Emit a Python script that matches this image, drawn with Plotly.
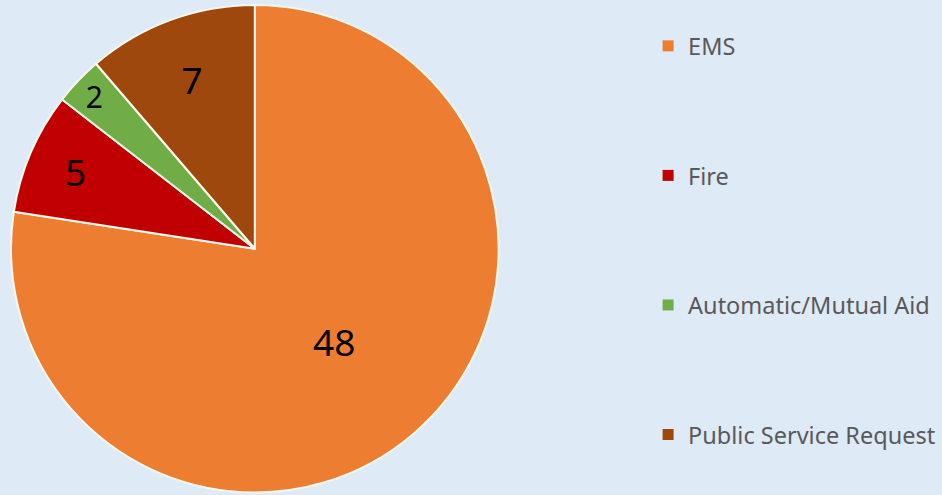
import plotly.graph_objects as go

categories = ["EMS", "Fire", "Automatic/Mutual Aid", "Public Service Request"]
values = [48, 5, 2, 7]
colors = ["#ED7D31", "#C00000", "#70AD47", "#9E480E"]

BG = "#DEEAF6"

fig = go.Figure()
fig.add_trace(go.Pie(
    labels=categories,
    values=values,
    sort=False,
    direction="clockwise",
    rotation=0,
    marker=dict(colors=colors, line=dict(color="#FBF7EC", width=2)),
    textinfo="value",
    textposition="inside",
    insidetextorientation="horizontal",
    textfont=dict(family="Noto Sans", size=37, color="#000000"),
    domain=dict(x=[0, 0.541], y=[0.005, 0.99]),
    showlegend=False,
    hoverinfo="label+value",
))

# legend entries (square swatches) spaced like the reference
for name, col in zip(categories, colors):
    fig.add_trace(go.Scatter(
        x=[None], y=[None], mode="markers", name=name,
        legendgroup=name,
        marker=dict(symbol="square", size=11, color=col),
        showlegend=True,
    ))

fig.update_layout(
    width=942, height=495,
    margin=dict(l=0, r=0, t=0, b=0),
    paper_bgcolor=BG, plot_bgcolor=BG,
    xaxis=dict(visible=False), yaxis=dict(visible=False),
    legend=dict(
        x=0.688, y=0.514, xanchor="left", yanchor="middle",
        font=dict(family="Noto Sans", size=23.5, color="#595959"),
        tracegroupgap=96, itemwidth=30,
        bgcolor="rgba(0,0,0,0)",
    ),
)

fig.write_html(
    "out.html",
    config={"displayModeBar": False},
    post_script="document.body.style.margin='0';document.body.style.background='" + BG + "';",
)
